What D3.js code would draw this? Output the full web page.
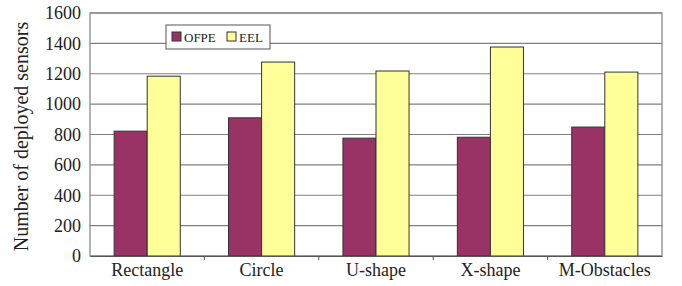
<!DOCTYPE html>
<html>
<head>
<meta charset="utf-8">
<script src="https://cdn.jsdelivr.net/npm/d3@7"></script>
<style>
  body { margin: 0; background: #fff; }
  svg text { font-family: "Liberation Serif", "DejaVu Serif", serif !important; fill: #222; }
</style>
</head>
<body>
<div id="chart"></div>
<script>
(function(){
  // data
  const categories = ["Rectangle", "Circle", "U-shape", "X-shape", "M-Obstacles"];
  const seriesNames = ["OFPE", "EEL"];
  const ofpe = [822, 910, 776, 782, 849];
  const eel = [1184, 1277, 1218, 1376, 1211];
  const yTicks = [0, 200, 400, 600, 800, 1000, 1200, 1400, 1600];

  const width = 682, height = 286;
  const margin = {top: 13, right: 20, bottom: 30, left: 90};
  const innerW = width - margin.left - margin.right;
  const innerH = height - margin.top - margin.bottom;
  const colors = {OFPE: "#993366", EEL: "#ffff99"};
  const serif = "'Liberation Serif', 'DejaVu Serif', serif";

  const rows = categories.map((c, i) => ({cat: c, OFPE: ofpe[i], EEL: eel[i]}));

  const svg = d3.select("#chart").append("svg")
      .attr("width", width)
      .attr("height", height)
      .attr("font-family", serif);

  const g = svg.append("g")
      .attr("transform", `translate(${margin.left},${margin.top})`);

  const x = d3.scaleBand().domain(categories).range([0, innerW]).paddingInner(0).paddingOuter(0);
  const xs = d3.scaleBand().domain(seriesNames).range([0, x.bandwidth()]).paddingInner(0).paddingOuter(0.73);
  const y = d3.scaleLinear().domain([0, 1600]).range([innerH, 0]);

  // gridlines
  g.append("g")
    .selectAll("line")
    .data(yTicks)
    .enter().append("line")
      .attr("x1", 0).attr("x2", innerW)
      .attr("y1", d => y(d)).attr("y2", d => y(d))
      .style("stroke", "#808080")
      .style("stroke-width", 1.2);

  // plot border
  g.append("rect")
      .attr("width", innerW).attr("height", innerH)
      .style("fill", "none")
      .style("stroke", "#808080")
      .style("stroke-width", 1.2);

  // bars
  const grp = g.append("g").selectAll("g")
    .data(rows)
    .enter().append("g")
      .attr("transform", d => `translate(${x(d.cat)},0)`);

  grp.selectAll("rect")
    .data(d => seriesNames.map(s => ({s, v: d[s]})))
    .enter().append("rect")
      .attr("x", d => xs(d.s))
      .attr("y", d => y(d.v))
      .attr("width", xs.bandwidth())
      .attr("height", d => innerH - y(d.v))
      .style("fill", d => colors[d.s])
      .style("stroke", "#333")
      .style("stroke-width", 1);

  // y axis
  const yAxis = g.append("g")
      .call(d3.axisLeft(y).tickValues(yTicks).tickFormat(d3.format("d")).tickSize(0).tickPadding(9));
  yAxis.attr("font-family", serif);
  yAxis.select(".domain").remove();
  yAxis.selectAll("text").style("font-size", "18px");

  // x axis
  const xAxis = g.append("g")
      .attr("transform", `translate(0,${innerH})`)
      .call(d3.axisBottom(x).tickSize(0).tickPadding(7));
  xAxis.attr("font-family", serif);
  xAxis.select(".domain").style("stroke", "#555");
  xAxis.selectAll("text").style("font-size", "18px");

  // small ticks between categories
  g.append("g").selectAll("line")
    .data(categories.slice(1))
    .enter().append("line")
      .attr("x1", d => x(d)).attr("x2", d => x(d))
      .attr("y1", innerH).attr("y2", innerH + 4)
      .style("stroke", "#555");

  // y label
  svg.append("text")
      .attr("transform", `translate(28,${margin.top + innerH / 2 + 2}) rotate(-90)`)
      .attr("text-anchor", "middle")
      .style("font-size", "20px")
      .text("Number of deployed sensors");

  // legend
  const leg = svg.append("g").attr("transform", "translate(166,25)");
  leg.append("rect")
      .attr("width", 104).attr("height", 24)
      .style("fill", "#fff")
      .style("stroke", "#555");
  const items = leg.selectAll(".item")
    .data(seriesNames)
    .enter().append("g")
      .attr("transform", (d, i) => `translate(${6 + i * 55},7)`);
  items.append("rect")
      .attr("width", 9).attr("height", 9)
      .style("fill", d => colors[d])
      .style("stroke", "#333");
  items.append("text")
      .attr("x", 12).attr("y", 9.5)
      .style("font-size", "13px")
      .text(d => d);
})();
</script>
</body>
</html>
